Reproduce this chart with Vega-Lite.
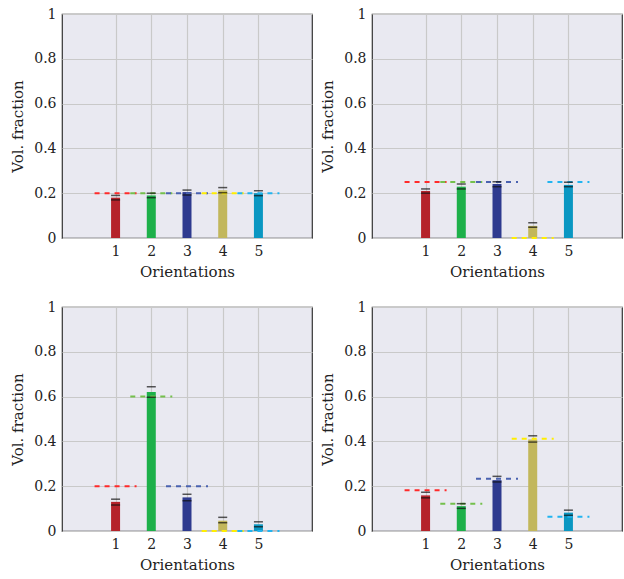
{
  "$schema": "https://vega.github.io/schema/vega-lite/v6.json",
  "padding": {"left": 10, "top": 6, "right": 4, "bottom": 0},
  "datasets": {"vf": [
    {"panel": 1, "orient": 1, "value": 0.18, "lo": 0.17, "hi": 0.19, "target": 0.2},
    {"panel": 1, "orient": 2, "value": 0.19, "lo": 0.18, "hi": 0.2, "target": 0.2},
    {"panel": 1, "orient": 3, "value": 0.205, "lo": 0.192, "hi": 0.214, "target": 0.2},
    {"panel": 1, "orient": 4, "value": 0.213, "lo": 0.202, "hi": 0.225, "target": 0.2},
    {"panel": 1, "orient": 5, "value": 0.2, "lo": 0.189, "hi": 0.211, "target": 0.2},
    {"panel": 2, "orient": 1, "value": 0.21, "lo": 0.2, "hi": 0.219, "target": 0.25},
    {"panel": 2, "orient": 2, "value": 0.229, "lo": 0.219, "hi": 0.241, "target": 0.25},
    {"panel": 2, "orient": 3, "value": 0.241, "lo": 0.229, "hi": 0.251, "target": 0.25},
    {"panel": 2, "orient": 4, "value": 0.054, "lo": 0.048, "hi": 0.068, "target": 0},
    {"panel": 2, "orient": 5, "value": 0.237, "lo": 0.229, "hi": 0.249, "target": 0.25},
    {"panel": 3, "orient": 1, "value": 0.13, "lo": 0.116, "hi": 0.142, "target": 0.2},
    {"panel": 3, "orient": 2, "value": 0.62, "lo": 0.597, "hi": 0.644, "target": 0.6},
    {"panel": 3, "orient": 3, "value": 0.15, "lo": 0.135, "hi": 0.164, "target": 0.2},
    {"panel": 3, "orient": 4, "value": 0.046, "lo": 0.037, "hi": 0.061, "target": 0},
    {"panel": 3, "orient": 5, "value": 0.03, "lo": 0.019, "hi": 0.041, "target": 0},
    {"panel": 4, "orient": 1, "value": 0.159, "lo": 0.148, "hi": 0.173, "target": 0.182},
    {"panel": 4, "orient": 2, "value": 0.111, "lo": 0.101, "hi": 0.122, "target": 0.122},
    {"panel": 4, "orient": 3, "value": 0.227, "lo": 0.219, "hi": 0.244, "target": 0.233},
    {"panel": 4, "orient": 4, "value": 0.408, "lo": 0.397, "hi": 0.425, "target": 0.412},
    {"panel": 4, "orient": 5, "value": 0.082, "lo": 0.07, "hi": 0.093, "target": 0.064}
  ]},
  "spacing": 19,
  "vconcat": [
    {"hconcat": [
      {"data": {"name": "vf"}, "transform": [{"filter": "datum.panel == 1"}], "width": 250, "height": 224,
       "layer": [
        {"mark": {"type": "bar", "size": 9},
         "encoding": {
          "x": {"field": "orient", "type": "quantitative", "scale": {"domain": [0, 6]}, "axis": {"title": "Orientations", "values": [1, 2, 3, 4, 5], "format": "d"}},
          "y": {"field": "value", "type": "quantitative", "scale": {"domain": [0, 1]}, "axis": {"title": "Vol.  fraction", "values": [0, 0.2, 0.4, 0.6, 0.8, 1], "format": "~g"}},
          "fill": {"field": "orient", "type": "nominal", "legend": null, "scale": {"domain": [1, 2, 3, 4, 5], "range": ["#b5232b", "#1db04a", "#2e3a8f", "#c2b75c", "#0a97c2"]}}}},
        {"mark": {"type": "rule", "strokeDash": [5, 5], "strokeWidth": 2, "xOffset": -21, "x2Offset": 21},
         "encoding": {"x": {"field": "orient", "type": "quantitative"}, "x2": {"field": "orient"}, "y": {"field": "target", "type": "quantitative"},
          "stroke": {"field": "orient", "type": "nominal", "legend": null, "scale": {"domain": [1, 2, 3, 4, 5], "range": ["#ff2a2a", "#74c04c", "#4a62b0", "#ffee00", "#22b4f0"]}}}},
        {"mark": {"type": "tick", "orient": "horizontal", "size": 9, "thickness": 1.5, "color": "#111"},
         "encoding": {"x": {"field": "orient", "type": "quantitative"}, "y": {"field": "lo", "type": "quantitative"}}},
        {"mark": {"type": "tick", "orient": "horizontal", "size": 9, "thickness": 1.5, "color": "#111"},
         "encoding": {"x": {"field": "orient", "type": "quantitative"}, "y": {"field": "hi", "type": "quantitative"}}}
       ]},
      {"data": {"name": "vf"}, "transform": [{"filter": "datum.panel == 2"}], "width": 250, "height": 224,
       "layer": [
        {"mark": {"type": "bar", "size": 9},
         "encoding": {
          "x": {"field": "orient", "type": "quantitative", "scale": {"domain": [0, 6]}, "axis": {"title": "Orientations", "values": [1, 2, 3, 4, 5], "format": "d"}},
          "y": {"field": "value", "type": "quantitative", "scale": {"domain": [0, 1]}, "axis": {"title": "Vol.  fraction", "values": [0, 0.2, 0.4, 0.6, 0.8, 1], "format": "~g"}},
          "fill": {"field": "orient", "type": "nominal", "legend": null, "scale": {"domain": [1, 2, 3, 4, 5], "range": ["#b5232b", "#1db04a", "#2e3a8f", "#c2b75c", "#0a97c2"]}}}},
        {"mark": {"type": "rule", "strokeDash": [5, 5], "strokeWidth": 2, "xOffset": -21, "x2Offset": 21},
         "encoding": {"x": {"field": "orient", "type": "quantitative"}, "x2": {"field": "orient"}, "y": {"field": "target", "type": "quantitative"},
          "stroke": {"field": "orient", "type": "nominal", "legend": null, "scale": {"domain": [1, 2, 3, 4, 5], "range": ["#ff2a2a", "#74c04c", "#4a62b0", "#ffee00", "#22b4f0"]}}}},
        {"mark": {"type": "tick", "orient": "horizontal", "size": 9, "thickness": 1.5, "color": "#111"},
         "encoding": {"x": {"field": "orient", "type": "quantitative"}, "y": {"field": "lo", "type": "quantitative"}}},
        {"mark": {"type": "tick", "orient": "horizontal", "size": 9, "thickness": 1.5, "color": "#111"},
         "encoding": {"x": {"field": "orient", "type": "quantitative"}, "y": {"field": "hi", "type": "quantitative"}}}
       ]}
    ]},
    {"hconcat": [
      {"data": {"name": "vf"}, "transform": [{"filter": "datum.panel == 3"}], "width": 250, "height": 224,
       "layer": [
        {"mark": {"type": "bar", "size": 9},
         "encoding": {
          "x": {"field": "orient", "type": "quantitative", "scale": {"domain": [0, 6]}, "axis": {"title": "Orientations", "values": [1, 2, 3, 4, 5], "format": "d"}},
          "y": {"field": "value", "type": "quantitative", "scale": {"domain": [0, 1]}, "axis": {"title": "Vol.  fraction", "values": [0, 0.2, 0.4, 0.6, 0.8, 1], "format": "~g"}},
          "fill": {"field": "orient", "type": "nominal", "legend": null, "scale": {"domain": [1, 2, 3, 4, 5], "range": ["#b5232b", "#1db04a", "#2e3a8f", "#c2b75c", "#0a97c2"]}}}},
        {"mark": {"type": "rule", "strokeDash": [5, 5], "strokeWidth": 2, "xOffset": -21, "x2Offset": 21},
         "encoding": {"x": {"field": "orient", "type": "quantitative"}, "x2": {"field": "orient"}, "y": {"field": "target", "type": "quantitative"},
          "stroke": {"field": "orient", "type": "nominal", "legend": null, "scale": {"domain": [1, 2, 3, 4, 5], "range": ["#ff2a2a", "#74c04c", "#4a62b0", "#ffee00", "#22b4f0"]}}}},
        {"mark": {"type": "tick", "orient": "horizontal", "size": 9, "thickness": 1.5, "color": "#111"},
         "encoding": {"x": {"field": "orient", "type": "quantitative"}, "y": {"field": "lo", "type": "quantitative"}}},
        {"mark": {"type": "tick", "orient": "horizontal", "size": 9, "thickness": 1.5, "color": "#111"},
         "encoding": {"x": {"field": "orient", "type": "quantitative"}, "y": {"field": "hi", "type": "quantitative"}}}
       ]},
      {"data": {"name": "vf"}, "transform": [{"filter": "datum.panel == 4"}], "width": 250, "height": 224,
       "layer": [
        {"mark": {"type": "bar", "size": 9},
         "encoding": {
          "x": {"field": "orient", "type": "quantitative", "scale": {"domain": [0, 6]}, "axis": {"title": "Orientations", "values": [1, 2, 3, 4, 5], "format": "d"}},
          "y": {"field": "value", "type": "quantitative", "scale": {"domain": [0, 1]}, "axis": {"title": "Vol.  fraction", "values": [0, 0.2, 0.4, 0.6, 0.8, 1], "format": "~g"}},
          "fill": {"field": "orient", "type": "nominal", "legend": null, "scale": {"domain": [1, 2, 3, 4, 5], "range": ["#b5232b", "#1db04a", "#2e3a8f", "#c2b75c", "#0a97c2"]}}}},
        {"mark": {"type": "rule", "strokeDash": [5, 5], "strokeWidth": 2, "xOffset": -21, "x2Offset": 21},
         "encoding": {"x": {"field": "orient", "type": "quantitative"}, "x2": {"field": "orient"}, "y": {"field": "target", "type": "quantitative"},
          "stroke": {"field": "orient", "type": "nominal", "legend": null, "scale": {"domain": [1, 2, 3, 4, 5], "range": ["#ff2a2a", "#74c04c", "#4a62b0", "#ffee00", "#22b4f0"]}}}},
        {"mark": {"type": "tick", "orient": "horizontal", "size": 9, "thickness": 1.5, "color": "#111"},
         "encoding": {"x": {"field": "orient", "type": "quantitative"}, "y": {"field": "lo", "type": "quantitative"}}},
        {"mark": {"type": "tick", "orient": "horizontal", "size": 9, "thickness": 1.5, "color": "#111"},
         "encoding": {"x": {"field": "orient", "type": "quantitative"}, "y": {"field": "hi", "type": "quantitative"}}}
       ]}
    ]}
  ],
  "config": {
    "view": {"fill": "#e9e9f1", "stroke": "#333333", "strokeWidth": 1.2},
    "concat": {"spacing": 7},
    "axis": {
      "zindex": 1,
      "domain": false,
      "ticks": false,
      "grid": true,
      "gridColor": "#c9c9c9",
      "gridWidth": 1.2,
      "labelFont": "DejaVu Serif",
      "labelFontSize": 14,
      "labelColor": "#222222",
      "labelPadding": 6,
      "titleFont": "DejaVu Serif",
      "titleFontSize": 15,
      "titleFontWeight": "normal",
      "titleColor": "#222222"
    },
    "axisX": {"titlePadding": 6},
    "axisY": {"titlePadding": 8}
  }
}
